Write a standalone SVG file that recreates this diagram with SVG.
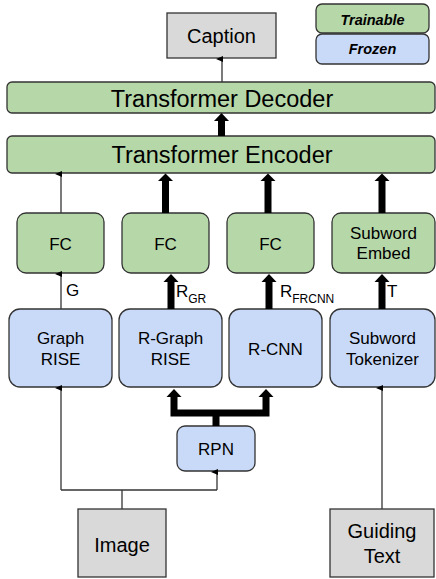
<svg xmlns="http://www.w3.org/2000/svg" width="436" height="579" viewBox="0 0 436 579">
<defs>
<style>
.box{stroke:#333;stroke-width:1.3}
.g{fill:#b6d7a8}
.b{fill:#c9daf8}
.y{fill:#d9d9d9}
text{font-family:"Liberation Sans",Arial,sans-serif;fill:#000;text-anchor:middle}
.t17{font-size:17px}
.t20{font-size:20px}
.t23{font-size:23.5px}
.leg{font-size:14.5px;font-weight:bold;font-style:italic}
.thin{stroke:#333;stroke-width:1.3;fill:none}
.thick{stroke:#000;stroke-width:7;fill:none}
.lbl{text-anchor:start;font-size:17px}
.sub{font-size:12px}
</style>
<marker id="ah" markerWidth="6" markerHeight="7" refX="3" refY="6" orient="auto-start-reverse" markerUnits="userSpaceOnUse" viewBox="0 0 6 7">
<path d="M0,7 L3,0 L6,7 Z" fill="#000"/>
</marker>
</defs>

<g id="legend-trainable"><rect class="box g" x="316" y="4" width="113" height="29" rx="6"/><text class="leg" x="372.5" y="25">Trainable</text></g>
<g id="legend-frozen"><rect class="box b" x="316" y="34" width="113" height="30" rx="6"/><text class="leg" x="372.5" y="54">Frozen</text></g>

<g id="caption"><rect class="box y" x="167" y="13" width="109" height="45"/><text class="t20" x="221.5" y="43">Caption</text></g>
<g id="decoder"><rect class="box g" x="7" y="82" width="428" height="31" rx="5"/><text class="t23" x="222" y="107">Transformer Decoder</text></g>
<g id="encoder"><rect class="box g" x="7" y="136" width="428" height="37" rx="5"/><text class="t23" x="222" y="163">Transformer Encoder</text></g>

<g id="fc1"><rect class="box g" x="17" y="213" width="87" height="60" rx="9"/><text class="t17" x="60.5" y="250">FC</text></g>
<g id="fc2"><rect class="box g" x="122" y="213" width="87" height="60" rx="9"/><text class="t17" x="165.5" y="250">FC</text></g>
<g id="fc3"><rect class="box g" x="227" y="213" width="87" height="60" rx="9"/><text class="t17" x="270.5" y="250">FC</text></g>
<g id="subword-embed"><rect class="box g" x="332" y="213" width="103" height="60" rx="9"/><text class="t17" x="383.5" y="239">Subword</text><text class="t17" x="383.5" y="259">Embed</text></g>

<g id="graph-rise"><rect class="box b" x="9" y="309" width="103" height="78" rx="11"/><text class="t17" x="60.5" y="344">Graph</text><text class="t17" x="60.5" y="365">RISE</text></g>
<g id="r-graph-rise"><rect class="box b" x="119" y="309" width="103" height="78" rx="11"/><text class="t17" x="170.5" y="344">R-Graph</text><text class="t17" x="170.5" y="365">RISE</text></g>
<g id="r-cnn"><rect class="box b" x="229" y="309" width="93" height="78" rx="11"/><text class="t17" x="275.5" y="355">R-CNN</text></g>
<g id="subword-tokenizer"><rect class="box b" x="330" y="309" width="105" height="78" rx="11"/><text class="t17" x="382.5" y="344">Subword</text><text class="t17" x="382.5" y="365">Tokenizer</text></g>

<g id="rpn"><rect class="box b" x="177" y="426" width="78" height="45" rx="8"/><text class="t17" x="216" y="455">RPN</text></g>

<g id="image"><rect class="box y" x="78" y="509" width="88" height="68"/><text class="t20" x="122" y="552">Image</text></g>
<g id="guiding-text"><rect class="box y" x="330" y="509" width="104" height="68"/><text class="t20" x="382" y="538">Guiding</text><text class="t20" x="382" y="563">Text</text></g>

<g id="connectors">
<!-- thin -->
<line class="thin" x1="222" y1="82" x2="222" y2="59" marker-end="url(#ah)"/>
<line class="thin" x1="61" y1="213" x2="61" y2="174" marker-end="url(#ah)"/>
<line class="thin" x1="61" y1="309" x2="61" y2="274" marker-end="url(#ah)"/>
<polyline class="thin" points="122,509 122,490"/>
<polyline class="thin" points="61,490 217,490"/>
<line class="thin" x1="61" y1="490" x2="61" y2="388" marker-end="url(#ah)"/>
<line class="thin" x1="217" y1="490" x2="217" y2="472" marker-end="url(#ah)"/>
<line class="thin" x1="382" y1="509" x2="382" y2="388" marker-end="url(#ah)"/>
<!-- thick -->
<line class="thick" x1="221.5" y1="136" x2="221.5" y2="120"/><path d="M214,121 L221.5,113 L229,121 Z"/>
<line class="thick" x1="165.5" y1="213" x2="165.5" y2="180"/><path d="M158,181 L165.5,173.5 L173,181 Z"/>
<line class="thick" x1="268" y1="213" x2="268" y2="180"/><path d="M260.5,181 L268,173.5 L275.5,181 Z"/>
<line class="thick" x1="382" y1="213" x2="382" y2="180"/><path d="M374.5,181 L382,173.5 L389.5,181 Z"/>
<line class="thick" x1="171" y1="309" x2="171" y2="281"/><path d="M163.5,282 L171,274 L178.5,282 Z"/>
<line class="thick" x1="269" y1="309" x2="269" y2="281"/><path d="M261.5,282 L269,274 L276.5,282 Z"/>
<line class="thick" x1="382" y1="309" x2="382" y2="281"/><path d="M374.5,282 L382,274 L389.5,282 Z"/>
<polyline class="thick" points="216,426 216,413"/>
<polyline class="thick" points="174,396 174,413 266,413 266,396"/>
<path d="M166.5,397 L174,389 L181.5,397 Z"/>
<path d="M258.5,397 L266,389 L273.5,397 Z"/>
</g>

<g id="labels">
<text class="lbl" x="66" y="296">G</text>
<text class="lbl" x="176" y="297">R<tspan class="sub" dy="6">GR</tspan></text>
<text class="lbl" x="280" y="297">R<tspan class="sub" dy="6">FRCNN</tspan></text>
<text class="lbl" x="387" y="297">T</text>
</g>
</svg>
